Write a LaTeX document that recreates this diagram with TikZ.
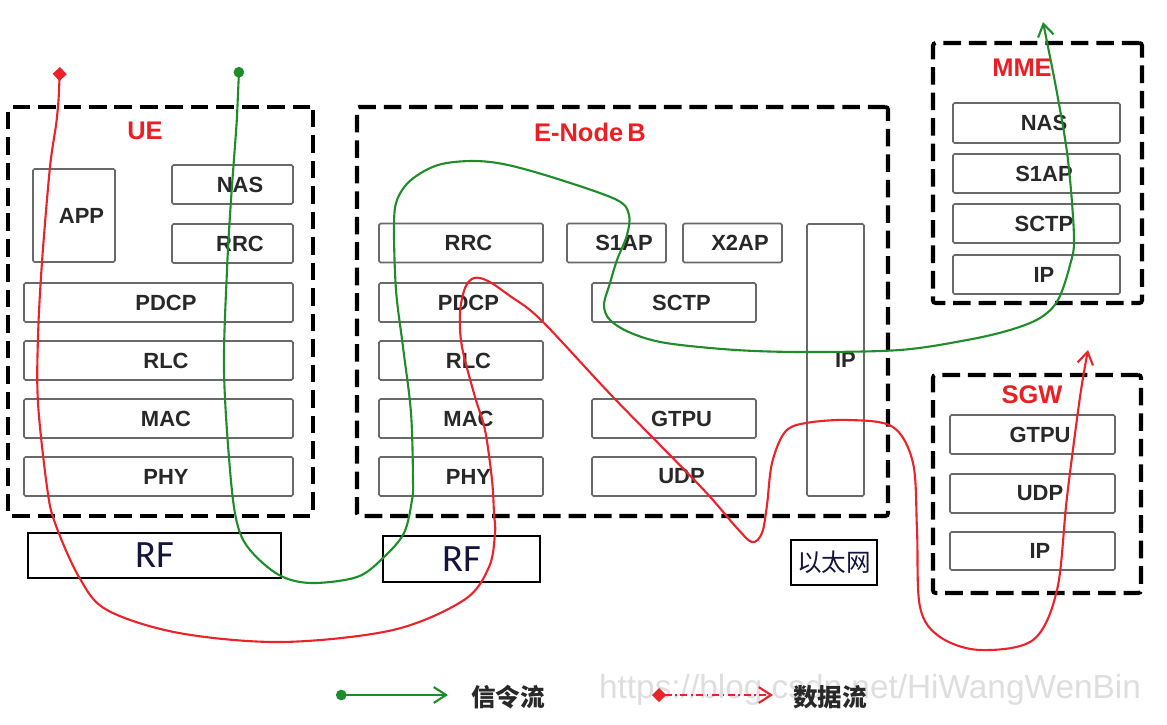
\documentclass[tikz,border=0pt]{standalone}
\usepackage{fontspec}
\setmainfont{Liberation Sans}
\newfontfamily\rffont{Carlito}
\newfontfamily\cjk{Noto Sans CJK SC}
\usetikzlibrary{arrows.meta}
\definecolor{sigGreen}{RGB}{30,140,40}
\definecolor{dataRed}{RGB}{235,35,40}
\definecolor{titleRed}{RGB}{235,30,35}
\definecolor{boxGray}{RGB}{105,105,105}
\definecolor{txtGray}{RGB}{40,40,40}
\definecolor{rfBlue}{RGB}{20,20,60}
\begin{document}
\begin{tikzpicture}
    [x=0.02cm, y=-0.02cm,
    wh/.style 2 args={minimum width=#1*0.02cm, minimum height=#2*0.02cm},
    zone/.style={draw=black, line width=2.3pt, dash pattern=on 10pt off 4.5pt, rounded corners=1.5pt, inner sep=0pt},
    layer/.style={draw=boxGray, line width=0.9pt, rounded corners=0.8pt, inner sep=0pt, text=txtGray,
        font=\bfseries\fontsize{12.5}{14}\selectfont, execute at begin node={\kern0.3cm}},
    rfbox/.style={draw=black, line width=0.9pt, inner sep=0pt, text=rfBlue, font=\rffont\fontsize{22}{24}\selectfont},
    title/.style={text=titleRed, font=\bfseries\fontsize{14.5}{16}\selectfont},
    sigflow/.style={draw=sigGreen, line width=1.2pt},
    dataflow/.style={draw=dataRed, line width=1.2pt}]
     \useasboundingbox (0,0) rectangle (1167,724);
     \node[text=black!13, font=\fontsize{19}{21}\selectfont] (Watermark) at (870,690){https://blog.csdn.net/HiWangWenBin};
     % UE
     \node[zone, wh={305}{409}] (ue) at (160.5,311.5){};
     \node[title] (ueLabel) at (145,131){UE};
     \node[layer, wh={82}{93}] (ueAPP) at (74,215.5){APP};
     \node[layer, wh={121}{39}] (ueNAS) at (232.5,184.5){NAS};
     \node[layer, wh={121}{39}] (ueRRC) at (232.5,243.5){RRC};
     \node[layer, wh={269}{39}] (uePDCP) at (158.5,302.5){PDCP};
     \node[layer, wh={269}{39}] (ueRLC) at (158.5,360.5){RLC};
     \node[layer, wh={269}{39}] (ueMAC) at (158.5,418.5){MAC};
     \node[layer, wh={269}{39}] (uePHY) at (158.5,476.5){PHY};
     \node[rfbox, wh={253}{45}] (ueRF) at (154.5,555.5){RF};
     % E-Node B
     \node[zone, wh={531}{409}] (enb) at (622.5,311.5){};
     \node[title] (enbLabel) at (590,132){E-Node\,B};
     \node[layer, wh={164}{39}] (enbRRC) at (461,243){RRC};
     \node[layer, wh={99}{39}] (enbS1AP) at (616.5,243){S1AP};
     \node[layer, wh={99}{39}] (enbX2AP) at (732.5,243){X2AP};
     \node[layer, wh={57}{272}, execute at begin node={\kern0.1cm}] (enbIP) at (835.5,360){IP};
     \node[layer, wh={164}{39}] (enbPDCP) at (461,302.5){PDCP};
     \node[layer, wh={164}{39}] (enbSCTP) at (674,302.5){SCTP};
     \node[layer, wh={164}{39}] (enbRLC) at (461,360.5){RLC};
     \node[layer, wh={164}{39}] (enbMAC) at (461,418.5){MAC};
     \node[layer, wh={164}{39}] (enbGTPU) at (674,418.5){GTPU};
     \node[layer, wh={164}{39}] (enbPHY) at (461,476.5){PHY};
     \node[layer, wh={164}{39}] (enbUDP) at (674,476.5){UDP};
     \node[rfbox, wh={157}{46}] (enbRF) at (461.5,559){RF};
     \node[rfbox, wh={86}{45}, font=\cjk\fontsize{14}{16}\selectfont] (ether) at (834,562.5){以太网};
     % MME
     \node[zone, wh={209}{260}] (mme) at (1037.5,173){};
     \node[title] (mmeLabel) at (1022,68){MME};
     \node[layer, wh={167}{40}] (mmeNAS) at (1036.5,123){NAS};
     \node[layer, wh={167}{39}] (mmeS1AP) at (1036.5,173.5){S1AP};
     \node[layer, wh={167}{39}] (mmeSCTP) at (1036.5,223.5){SCTP};
     \node[layer, wh={167}{39}] (mmeIP) at (1036.5,274.5){IP};
     % SGW
     \node[zone, wh={208}{218}] (sgw) at (1037,484){};
     \node[title] (sgwLabel) at (1032,395){SGW};
     \node[layer, wh={165}{39}] (sgwGTPU) at (1032.5,434.5){GTPU};
     \node[layer, wh={165}{39}] (sgwUDP) at (1032.5,493.5){UDP};
     \node[layer, wh={165}{38}] (sgwIP) at (1032.5,551){IP};
     % signalling flow
     \coordinate (sigStart) at (239,67);
     \coordinate (sigEnd) at (1043,22);
     \draw[sigflow, {Circle[length=6pt]}-{Straight Barb[length=7pt, width=9pt]}]
        plot[smooth, tension=0.55] coordinates {(sigStart) (237,117) (231,200) (227,270) (224,370) (230,470)
        (237,523) (250,550) (279,575) (311,583) (357,577) (383,558) (404,533) (412,500) (413,480) (411,413)
        (403,347) (396,290) (394,227) (397,200) (411,180) (438,165) (473,161) (508,165) (561,180) (617,200)
        (629,215) (627,235) (617,260) (610,283) (604,305) (610,320) (631,333) (666,343) (736,350) (806,352)
        (900,350) (967,340) (1010,330) (1040,318) (1058,300) (1070,265) (1074,237) (1068,160) (1057,93) (sigEnd)};
     % data flow
     \coordinate (dataStart) at (60,67);
     \coordinate (dataEnd) at (1088,350);
     \draw[dataflow, {Turned Square[length=8pt, width=8pt]}-{Straight Barb[length=7pt, width=9pt]}]
        plot[smooth, tension=0.55] coordinates {(dataStart) (57,117) (50,167) (42,262) (38,337) (38,403) (47,487)
        (55,523) (79,577) (107,610) (179,633) (282,642) (393,630) (464,600) (489,567) (495,533) (494,513)
        (492,480) (485,430) (475,397) (462,347) (460,313) (465,288) (474,278) (488,281) (510,296) (541,320)
        (613,397) (701,487) (736,527) (752,542) (762,533) (767,505) (772,463) (785,432) (806,423) (850,420)
        (893,427) (913,463) (917,530) (920,607) (940,637) (980,650) (1033,640) (1057,590) (1067,497)
        (1080,397) (dataEnd)};
     % legend
     \coordinate (legSigA) at (336,695);
     \coordinate (legSigB) at (448,695);
     \coordinate (legDataA) at (652,695);
     \coordinate (legDataB) at (773,695);
     \draw[sigflow, {Circle[length=6pt]}-{Straight Barb[length=7pt, width=9pt]}] (legSigA) -- (legSigB);
     \draw[dataflow, dash pattern=on 4pt off 2pt on 1pt off 2pt, {Turned Square[length=8pt, width=8pt]}-{Straight Barb[length=7pt, width=9pt]}] (legDataA) -- (legDataB);
     \node[text=txtGray, font=\cjk\bfseries\fontsize{14}{16}\selectfont] (SigLabel) at (508,697){信令流};
     \node[text=txtGray, font=\cjk\bfseries\fontsize{14}{16}\selectfont] (DataLabel) at (830,697){数据流};
\end{tikzpicture}
\end{document}
